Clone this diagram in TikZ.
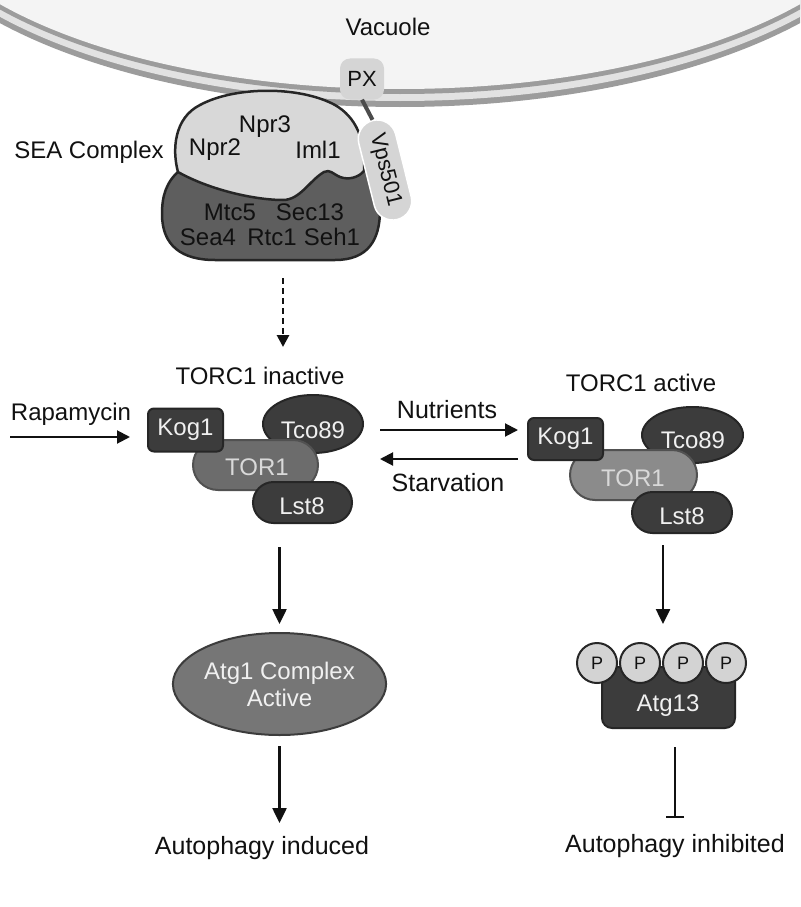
\documentclass[tikz,border=0pt]{standalone}
\usepackage{fontspec}
\setmainfont{Liberation Sans}
\usetikzlibrary{arrows.meta,shapes.geometric,calc}
\definecolor{memdark}{HTML}{9C9C9C}
\definecolor{memband}{HTML}{E2E2E2}
\definecolor{vacin}{HTML}{F4F4F4}
\definecolor{pxfill}{HTML}{D5D5D5}
\definecolor{seal}{HTML}{D8D8D8}
\definecolor{sead}{HTML}{5E5E5E}
\definecolor{outl}{HTML}{262626}
\definecolor{dk}{HTML}{3C3C3C}
\definecolor{torin}{HTML}{6C6C6C}
\definecolor{toract}{HTML}{8B8B8B}
\definecolor{atgf}{HTML}{767676}
\definecolor{pfill}{HTML}{D3D3D3}
\definecolor{wt}{HTML}{F0F0F0}
\definecolor{ink}{HTML}{111111}
\begin{document}
\begin{tikzpicture}[x=1pt,y=-1pt,
  lbl/.style={font=\fontsize{24}{28}\selectfont, text=ink, inner sep=0pt},
  biglbl/.style={font=\fontsize{25}{29}\selectfont, text=ink, inner sep=0pt},
  wtxt/.style={font=\fontsize{24}{28}\selectfont, text=wt, inner sep=0pt},
  darkbox/.style={draw=outl, line width=2pt, fill=dk, rectangle, inner sep=0pt},
  darkell/.style={draw=outl, line width=2pt, fill=dk, ellipse, inner sep=0pt},
  torpill/.style={draw=outl!80, line width=2pt, rectangle, rounded corners=25pt, minimum height=50pt, inner sep=0pt},
  lstpill/.style={darkbox, rounded corners=20.5pt, minimum height=41pt, minimum width=99pt},
  kogbox/.style={darkbox, rounded corners=6pt, minimum width=75pt, minimum height=43pt, font=\fontsize{24}{28}\selectfont, text=wt},
  pcirc/.style={circle, draw=outl, line width=2pt, fill=pfill, minimum size=40pt, inner sep=0pt, font=\fontsize{18}{20}\selectfont, text=ink},
  thinarr/.style={draw=ink, line width=2pt, -{Triangle[width=13pt,length=13pt]}},
  varr/.style={draw=ink, line width=2.5pt, -{Triangle[width=14pt,length=15pt]}},
  dasharr/.style={draw=ink, line width=2.8pt, dash pattern=on 6pt off 4pt, -{Triangle[width=12pt,length=12pt]}},
  blobline/.style={draw=outl, line width=2.5pt, line join=round}
]
\useasboundingbox (0,0) rectangle (800,907);
\fill[white] (0,0) rectangle (800,907);
% vacuole membrane
\begin{scope}
\clip (0,0) rectangle (800,907);
\fill[memdark] (400,-123) ellipse [x radius=518, y radius=230];
\fill[memband] (400,-123) ellipse [x radius=512, y radius=224];
\fill[memdark] (400,-123) ellipse [x radius=505, y radius=217];
\fill[vacin] (400,-123) ellipse [x radius=500, y radius=212];
\end{scope}
\node[lbl] (vac) at (388,27) {Vacuole};

% PX and Vps501
\node[rectangle, rounded corners=10pt, fill=pxfill, minimum width=44pt, minimum height=41pt, inner sep=0pt, font=\fontsize{22}{26}\selectfont, text=ink] (px) at (362,79) {PX};

% SEA complex
\path[blobline, fill=sead] (180,170) .. controls (166,182) and (162,196) .. (162,214)
  .. controls (162,246) and (182,260) .. (215,260) -- (335,260)
  .. controls (368,260) and (380,240) .. (380,210)
  .. controls (380,190) and (375,178) .. (365,166)
  .. controls (330,158) and (210,158) .. (180,170) -- cycle;
\path[blobline, fill=seal] (178,172) .. controls (172,150) and (174,118) .. (200,105)
  .. controls (235,86) and (300,86) .. (335,105)
  .. controls (356,117) and (366,140) .. (364,171)
  .. controls (358,178) and (348,180) .. (340,177)
  .. controls (333,174) and (330,169) .. (324,172)
  .. controls (310,180) and (300,200) .. (283,200)
  .. controls (255,200) and (210,190) .. (178,172) -- cycle;
\node[rectangle, rounded corners=19pt, fill=pxfill, draw=white, line width=1.5pt, minimum width=102pt, minimum height=38pt, inner sep=0pt, rotate=-76, font=\fontsize{22}{26}\selectfont, text=ink] (vps) at (385,170) {Vps501};
\draw[line width=4pt, draw=black!70] (px.south) -- (vps.west);

\node[lbl] (npr3) at (265,127) {Npr3};
\node[lbl] (npr2) at (215,150) {Npr2};
\node[lbl] (iml1) at (318,150) {Iml1};
\node[lbl] (mtc5) at (230,212) {Mtc5};
\node[lbl] (sec13) at (310,212) {Sec13};
\node[lbl] (sea4) at (208,237) {Sea4};
\node[lbl] (rtc1) at (272,237) {Rtc1};
\node[lbl] (seh1) at (332,237) {Seh1};
\node[lbl] (seac) at (89,152) {SEA Complex};

% dashed arrow
\coordinate (d1) at (283,278);
\coordinate (d2) at (283,347);
\draw[dasharr] (d1) -- (d2);

% TORC1 inactive
\node[lbl] (tinl) at (260,376) {TORC1 inactive};
\node[lbl] (rapa) at (71,414) {Rapamycin};
\coordinate (ra1) at (10,437);
\coordinate (ra2) at (130,437);
\draw[thinarr] (ra1) -- (ra2);

\node[darkell, minimum width=100pt, minimum height=58pt] (tcoI) at (313,424) {};
\node[wtxt] (tcoIt) at (313,430) {Tco89};
\node[torpill, fill=torin, minimum width=125pt] (torI) at (255.5,465) {};
\node[wtxt, text=black!15] (torIt) at (257,467) {TOR1};
\node[kogbox] (kogI) at (185.5,430) {Kog1};
\node[lstpill] (lstI) at (302.5,502.5) {};
\node[wtxt] (lstIt) at (302,506) {Lst8};

% nutrients / starvation
\node[biglbl] (nutr) at (447,410) {Nutrients};
\node[biglbl] (starv) at (448,483) {Starvation};
\coordinate (n1) at (380,430);
\coordinate (n2) at (518,430);
\coordinate (s1) at (518,459);
\coordinate (s2) at (380,459);
\draw[thinarr] (n1) -- (n2);
\draw[thinarr] (s1) -- (s2);

% TORC1 active
\node[lbl] (tacl) at (641,383) {TORC1 active};
\node[darkell, minimum width=101pt, minimum height=56pt] (tcoA) at (692.5,435) {};
\node[wtxt] (tcoAt) at (693,440) {Tco89};
\node[torpill, fill=toract, minimum width=127pt] (torA) at (633.5,475) {};
\node[wtxt, text=black!15] (torAt) at (633,478) {TOR1};
\node[kogbox, minimum height=42pt] (kogA) at (565.5,439) {Kog1};
\node[lstpill, minimum width=100pt] (lstA) at (682,512.5) {};
\node[wtxt] (lstAt) at (682,516) {Lst8};

% inactive branch
\node[ellipse, draw=outl!90, fill=atgf, line width=2pt, minimum width=189pt, minimum height=102pt, inner sep=0pt, align=center, font=\fontsize{24}{27}\selectfont, text=wt] (atg1) at (279.5,684) {Atg1 Complex\\Active};
\coordinate (a1) at (279.5,547);
\draw[varr, shorten >=8pt] (a1) -- (atg1.north);
\node[biglbl] (indu) at (262,848) {Autophagy induced};
\coordinate (a2) at (279.5,823);
\draw[varr, shorten <=10pt] (atg1.south) -- (a2);

% active branch
\node[darkbox, rounded corners=10pt, minimum width=133pt, minimum height=61pt] (atg13) at (668.5,697.5) {};
\node[wtxt] (atg13t) at (668,706) {Atg13};
\node[pcirc] (p1) at (597,663) {P};
\node[pcirc] (p2) at (640,663) {P};
\node[pcirc] (p3) at (683,663) {P};
\node[pcirc] (p4) at (726,663) {P};
\coordinate (r1) at (663,545);
\coordinate (r2) at (663,624);
\draw[varr] (r1) -- (r2);
\coordinate (i1) at (675,747);
\coordinate (i2) at (675,818);
\draw[draw=ink, line width=2.5pt, -{Bar[width=18pt]}] (i1) -- (i2);
\node[biglbl] (inhi) at (675,846) {Autophagy inhibited};
\end{tikzpicture}
\end{document}
